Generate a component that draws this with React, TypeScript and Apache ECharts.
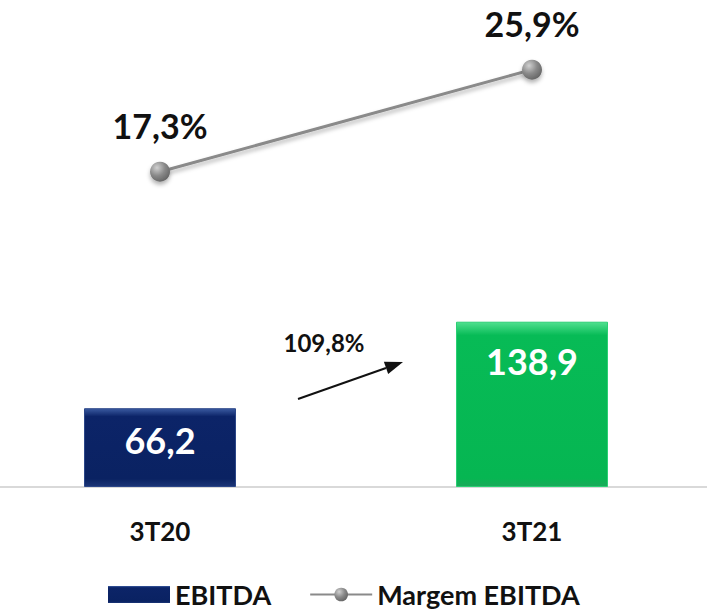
import React, { useEffect, useRef } from "react";
import * as echarts from "echarts";

const categories = ["3T20", "3T21"];
const ebitda = [66.2, 138.9];
const margem = [17.3, 25.9];
const growthLabel = "109,8%";
const seriesNames = ["EBITDA", "Margem EBITDA"];

const FONT = "Lato, 'Open Sans', sans-serif";
const fmt = (v: number, suffix = "") => v.toFixed(1).replace(".", ",") + suffix;

export default function App() {
  const ref = useRef<HTMLDivElement>(null);
  useEffect(() => {
    if (!ref.current) return;
    const chart = echarts.init(ref.current, undefined, { renderer: "svg" });
    const barColors = [
      new echarts.graphic.LinearGradient(0, 0, 0, 1, [
        { offset: 0, color: "#3a5aa0" },
        { offset: 0.1, color: "#0c2468" },
        { offset: 0.9, color: "#0a2262" },
        { offset: 1, color: "#1b3577" },
      ]),
      new echarts.graphic.LinearGradient(0, 0, 0, 1, [
        { offset: 0, color: "#4fe08f" },
        { offset: 0.08, color: "#07bb56" },
        { offset: 0.95, color: "#06b652" },
        { offset: 1, color: "#1aa95a" },
      ]),
    ];
    const barBorders = ["#2b4688", "#2bcf74"];
    const labelDist = [14, 21];
    const ballColor = new echarts.graphic.RadialGradient(0.35, 0.3, 0.8, [
      { offset: 0, color: "#d0d0d0" },
      { offset: 0.5, color: "#8a8a8a" },
      { offset: 1, color: "#5e5e5e" },
    ]);
    // arrow geometry
    const sx = 298, sy = 399, tx = 403, ty = 362;
    const dx = tx - sx, dy = ty - sy;
    const len = Math.hypot(dx, dy);
    const ux = dx / len, uy = dy / len;
    const hl = 18, hw = 6.5;
    const bx = tx - ux * hl, by = ty - uy * hl;
    const nx = -uy, ny = ux;

    chart.setOption({
      animation: false,
      textStyle: { fontFamily: FONT },
      legend: {
        left: 108,
        top: 581,
        padding: 0,
        itemWidth: 62,
        itemHeight: 17,
        itemGap: 38,
        textStyle: { fontSize: 27, fontWeight: "bold", color: "#111", fontFamily: FONT },
        data: [
          { name: seriesNames[0], icon: "rect", itemStyle: { color: barColors[0] } },
          { name: seriesNames[1] },
        ],
      },
      grid: [
        { left: 160, right: 175, top: 11, bottom: 129 },
        { left: 160, right: 175, top: 21, bottom: 239 },
        { left: 0, right: 0, top: 11, bottom: 129 },
      ],
      xAxis: [
        {
          type: "category",
          gridIndex: 0,
          data: categories,
          boundaryGap: false,
          axisLine: { show: false },
          axisTick: { show: false },
          axisLabel: {
            margin: 31,
            fontSize: 26,
            fontWeight: "bold",
            color: "#111",
            fontFamily: FONT,
          },
        },
        {
          type: "category",
          gridIndex: 1,
          data: categories,
          boundaryGap: false,
          show: false,
        },
        {
          type: "category",
          gridIndex: 2,
          data: categories,
          axisLine: { show: true, lineStyle: { color: "#d9d9d9", width: 2 } },
          axisTick: { show: false },
          axisLabel: { show: false },
          z: 0,
        },
      ],
      yAxis: [
        { type: "value", gridIndex: 0, min: 0, max: 400, show: false },
        { type: "value", gridIndex: 1, min: 0, max: 30, show: false },
        { type: "value", gridIndex: 2, min: 0, max: 400, show: false },
      ],
      series: [
        {
          name: seriesNames[0],
          type: "bar",
          xAxisIndex: 0,
          yAxisIndex: 0,
          barWidth: 152,
          z: 3,
          itemStyle: { color: barColors[0] },
          data: ebitda.map((v, i) => ({
            value: v,
            itemStyle: { color: barColors[i], borderColor: barBorders[i], borderWidth: 1 },
            label: { distance: labelDist[i] },
          })),
          label: {
            show: true,
            position: "insideTop",
            color: "#fff",
            fontSize: 36,
            fontWeight: "bold",
            fontFamily: FONT,
            formatter: (p: any) => fmt(p.value),
          },
        },
        {
          name: seriesNames[1],
          type: "line",
          xAxisIndex: 1,
          yAxisIndex: 1,
          data: margem,
          symbol: "circle",
          symbolSize: 20,
          lineStyle: {
            color: "#8a8a8a",
            width: 3,
            shadowColor: "rgba(0,0,0,0.3)",
            shadowBlur: 4,
            shadowOffsetY: 3,
          },
          itemStyle: {
            color: ballColor,
            borderWidth: 0,
            shadowColor: "rgba(0,0,0,0.3)",
            shadowBlur: 4,
            shadowOffsetY: 3,
          },
          label: {
            show: true,
            position: "top",
            distance: 19,
            color: "#111",
            fontSize: 34,
            fontWeight: "bold",
            fontFamily: FONT,
            formatter: (p: any) => fmt(p.value, "%"),
          },
        },
      ],
      graphic: [
        {
          type: "text",
          x: 324,
          y: 342,
          style: {
            text: growthLabel,
            fontSize: 24,
            fontWeight: "bold",
            fontFamily: FONT,
            fill: "#111",
            align: "center",
            verticalAlign: "middle",
          },
        },
        {
          type: "line",
          shape: { x1: sx, y1: sy, x2: bx, y2: by },
          style: { stroke: "#111", lineWidth: 2 },
        },
        {
          type: "polygon",
          shape: {
            points: [
              [tx, ty],
              [bx + nx * hw, by + ny * hw],
              [bx - nx * hw, by - ny * hw],
            ],
          },
          style: { fill: "#111" },
        },
      ],
    });
    return () => chart.dispose();
  }, []);
  return (
    <div
      ref={ref}
      style={{ position: "absolute", left: 0, top: 0, width: 707, height: 616, background: "#fff" }}
    />
  );
}
